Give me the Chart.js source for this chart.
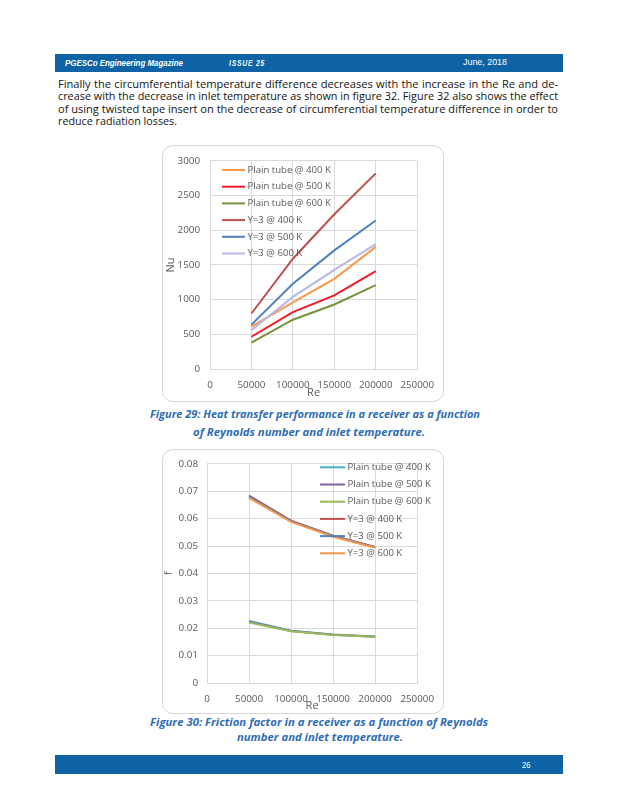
<!DOCTYPE html>
<html><head><meta charset="utf-8">
<script src="https://cdn.jsdelivr.net/npm/chart.js@4.4.1/dist/chart.umd.min.js"></script>
<style>
html,body{margin:0;padding:0;background:#fff;}
body{width:618px;height:800px;position:relative;overflow:hidden;font-family:"Open Sans",sans-serif;}
.bar{position:absolute;left:55px;width:508px;background:#0D63A5;}
.t{position:absolute;white-space:nowrap;transform-origin:0 50%;line-height:1;}
.body{font-family:"Open Sans";font-size:11.1px;color:#141414;}
.hd{font-family:"Liberation Sans";color:#fff;}
.cap{font-family:"Open Sans";font-weight:bold;font-style:italic;font-size:10.7px;color:#2E6DB4;}
.box{position:absolute;border:1px solid #D6D6D6;border-radius:11px;box-sizing:border-box;}
.box canvas{position:absolute;left:-1px;top:-1px;}
</style></head><body>
<div class="bar" style="top:54px;height:18px;"></div>
<div class="t hd" data-w="118" style="left:65px;top:58.5px;font-size:8.5px;font-weight:bold;font-style:italic;">PGESCo Engineering Magazine</div>
<div class="t hd" data-w="36" style="left:229px;top:58.5px;font-size:8.5px;font-weight:bold;font-style:italic;letter-spacing:1px;">ISSUE 25</div>
<div class="t hd" data-w="44" style="left:463px;top:58.1px;font-size:9px;">June, 2018</div>

<div class="t body" data-w="500" data-j="1" style="left:58px;top:77.9px;">Finally the circumferential temperature difference decreases with the increase in the Re and de-</div>
<div class="t body" data-w="500" data-j="1" style="left:58px;top:90.3px;">crease with the decrease in inlet temperature as shown in figure 32. Figure 32 also shows the effect</div>
<div class="t body" data-w="500" data-j="1" style="left:58px;top:102.7px;">of using twisted tape insert on the decrease of circumferential temperature difference in order to</div>
<div class="t body" data-w="119" style="left:58px;top:115.1px;">reduce radiation losses.</div>

<div class="box" style="left:162px;top:145px;width:282px;height:257px;"><canvas id="c1" width="282" height="257"></canvas></div>
<div class="t cap" data-w="330" style="left:150px;top:408.5px;">Figure 29: Heat transfer performance in a receiver as a function</div>
<div class="t cap" data-w="232" style="left:193px;top:426.5px;">of Reynolds number and inlet temperature.</div>

<div class="box" style="left:162px;top:449px;width:282px;height:265px;"><canvas id="c2" width="282" height="265"></canvas></div>
<div class="t cap" data-w="338" style="left:150px;top:716.5px;">Figure 30: Friction factor in a receiver as a function of Reynolds</div>
<div class="t cap" data-w="166" style="left:237px;top:731.5px;">number and inlet temperature.</div>

<div class="bar" style="top:755px;height:19px;"></div>
<div class="t hd" data-w="8.5" style="left:521.5px;top:761.4px;font-size:9px;">26</div>

<script>
// ---- data ----
const re = [50000, 100000, 150000, 200000];
const seriesLabels = ['Plain tube @ 400 K', 'Plain tube @ 500 K', 'Plain tube @ 600 K', 'Y=3 @ 400 K', 'Y=3 @ 500 K', 'Y=3 @ 600 K'];
const nuPlain400 = [610, 960, 1300, 1760];
const nuPlain500 = [465, 820, 1060, 1410];
const nuPlain600 = [380, 710, 930, 1210];
const nuY3_400 = [800, 1590, 2230, 2820];
const nuY3_500 = [640, 1230, 1710, 2140];
const nuY3_600 = [560, 1040, 1430, 1800];
const fPlain400 = [0.0226, 0.0191, 0.0177, 0.0170];
const fPlain500 = [0.0224, 0.0190, 0.0176, 0.0169];
const fPlain600 = [0.0221, 0.0189, 0.0175, 0.0169];
const fY3_400 = [0.0684, 0.0593, 0.0538, 0.0497];
const fY3_500 = [0.0681, 0.0591, 0.0537, 0.0496];
const fY3_600 = [0.0676, 0.0588, 0.0534, 0.0494];
const reTicks = [0, 50000, 100000, 150000, 200000, 250000];
const nuTicks = [0, 500, 1000, 1500, 2000, 2500, 3000];
const fTicks = [0, 0.01, 0.02, 0.03, 0.04, 0.05, 0.06, 0.07, 0.08];

const colors1 = ['#F79A4E', '#EE1C25', '#77933C', '#C0504D', '#4F81BD', '#B7B9E4'];
const colors2 = ['#4BACC6', '#8064A2', '#9BBB59', '#C0504D', '#4F81BD', '#F79646'];

// ---- text fitting ----
function fitText() {
  document.querySelectorAll('.t[data-w]').forEach(el => {
    const target = parseFloat(el.dataset.w);
    const w = el.getBoundingClientRect().width;
    if (el.dataset.j && w <= target) {
      el.style.width = target + 'px';
      el.style.whiteSpace = 'normal';
      el.style.textAlign = 'justify';
      el.style.textAlignLast = 'justify';
    } else {
      el.style.transform = 'scaleX(' + (target / w) + ')';
    }
  });
}
fitText();

// ---- charts ----
const insideLegend = {
  id: 'insideLegend',
  afterDatasetsDraw(chart, args, o) {
    const ctx = chart.ctx;
    ctx.save();
    ctx.font = '9.6px "Open Sans"';
    ctx.fillStyle = '#595959';
    ctx.textBaseline = 'middle';
    ctx.textAlign = 'left';
    chart.data.datasets.forEach((ds, i) => {
      const y = o.y + i * o.dy;
      ctx.strokeStyle = ds.borderColor;
      ctx.lineWidth = 2;
      ctx.beginPath();
      ctx.moveTo(o.x, y);
      ctx.lineTo(o.x + o.len, y);
      ctx.stroke();
      ctx.fillText(ds.label, o.x + o.len + 2.5, y);
    });
    ctx.restore();
  }
};

function makeDatasets(arrs, cols) {
  return arrs.map((a, i) => ({
    label: seriesLabels[i],
    data: re.map((x, k) => ({x: x, y: a[k]})),
    borderColor: cols[i],
    backgroundColor: cols[i],
    borderWidth: 2,
    pointRadius: 0,
    tension: 0,
    fill: false,
    order: arrs.length - i
  }));
}

const tickFont = {family: 'Open Sans', size: 9.8};
const gridCol = '#D9D9D9';

function makeChart(id, arrs, cols, o) {
  return new Chart(document.getElementById(id), {
    type: 'line',
    data: {datasets: makeDatasets(arrs, cols)},
    plugins: [insideLegend],
    options: {
      responsive: false,
      animation: false,
      events: [],
      layout: {padding: {left: 0, top: o.padTop, right: o.padRight, bottom: 0}},
      plugins: {legend: {display: false}, tooltip: {enabled: false}, insideLegend: o.legend},
      scales: {
        x: {
          type: 'linear', min: 0, max: 250000,
          afterBuildTicks: s => { s.ticks = reTicks.map(v => ({value: v})); },
          ticks: {callback: v => String(v), color: '#595959', font: tickFont, padding: 10, maxRotation: 0, autoSkip: false},
          grid: {color: gridCol, drawTicks: false, lineWidth: 1},
          border: {color: gridCol},
          title: {display: true, text: 'Re', color: '#595959', font: {family: 'Open Sans', size: 11}, padding: {top: 0, bottom: o.reBottom}},
          afterFit: s => { s.height = o.xHeight; }
        },
        y: {
          type: 'linear', min: o.ymin, max: o.ymax,
          afterBuildTicks: s => { s.ticks = o.yTicks.map(v => ({value: v})); },
          ticks: {callback: o.yFmt, color: '#595959', font: tickFont, padding: o.yPad, autoSkip: false},
          grid: {color: gridCol, drawTicks: false, lineWidth: 1},
          border: {color: gridCol},
          title: {display: true, text: o.yTitle, color: '#595959', font: {family: 'Open Sans', size: 11}, padding: {top: o.yTitlePad, bottom: 0}},
          afterFit: s => { s.width = o.yWidth; }
        }
      }
    }
  });
}

makeChart('c1', [nuPlain400, nuPlain500, nuPlain600, nuY3_400, nuY3_500, nuY3_600], colors1, {
  padTop: 15, padRight: 24, xHeight: 33, yWidth: 48, yPad: 10,
  ymin: 0, ymax: 3000, yTicks: nuTicks, yFmt: v => String(v),
  yTitle: 'Nu', yTitlePad: 2.1, reBottom: 2.1,
  legend: {x: 60, y: 25, dy: 16.7, len: 23}
});

makeChart('c2', [fPlain400, fPlain500, fPlain600, fY3_400, fY3_500, fY3_600], colors2, {
  padTop: 14, padRight: 22, xHeight: 31, yWidth: 45, yPad: 9,
  ymin: 0, ymax: 0.08, yTicks: fTicks, yFmt: v => (v === 0 ? '0' : v.toFixed(2)),
  yTitle: 'f', yTitlePad: 0, reBottom: 1.7,
  legend: {x: 158, y: 18.3, dy: 17.2, len: 25}
});
</script>
</body></html>
